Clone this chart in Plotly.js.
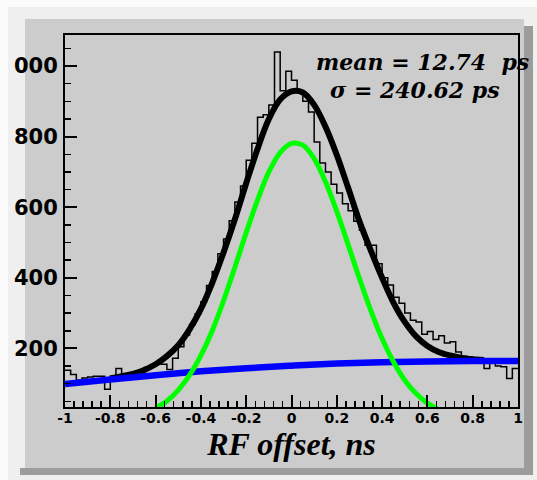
<!DOCTYPE html>
<html>
<head>
<meta charset="utf-8">
<script src="https://cdn.plot.ly/plotly-3.0.1.min.js"></script>
<style>
  html, body { margin: 0; padding: 0; background: #fbfbfb; }
  #chart { width: 537px; height: 480px; }
</style>
</head>
<body>
<div id="chart"></div>
<script>
// ---------------- data ----------------
// histogram: 80 bins of 0.025 ns from -1 to 1
const histLow = -1;
const histBinWidth = 0.025;
const histCounts = [
  138, 126, 110, 116, 119, 121, 121, 84, 121, 143,
  128, 128, 131, 136, 146, 152, 160, 155, 140, 172,
  205, 238, 268, 298, 332, 378, 418, 468, 510, 562,
  615, 660, 733, 781, 855, 862, 890, 1040, 930, 985,
  960, 925, 900, 870, 785, 725, 700, 665, 640, 610,
  590, 560, 535, 492, 492, 440, 400, 380, 345, 328,
  300, 280, 275, 240, 248, 225, 236, 215, 219, 190,
  178, 176, 172, 165, 143, 160, 150, 148, 115, 143
];

// total fit (black)
const fitX = [-0.8,-0.75,-0.7,-0.65,-0.6,-0.55,-0.5,-0.45,-0.4,-0.35,-0.3,-0.25,-0.2,-0.15,-0.1,-0.05,0,0.05,0.1,0.15,0.2,0.25,0.3,0.35,0.4,0.45,0.5,0.55,0.6,0.65,0.7,0.75,0.8,0.85];
const fitY = [115,121,128,139,155,178,209,254,312,386,472,566,668,765,850,905,928,925,890,828,748,655,560,478,400,330,275,234,207,190,180,173,169,167];

// signal component (green)
const gaussX = [-0.6,-0.55,-0.5,-0.45,-0.4,-0.35,-0.3,-0.25,-0.2,-0.15,-0.1,-0.05,0,0.05,0.1,0.15,0.2,0.25,0.3,0.35,0.4,0.45,0.5,0.55,0.6,0.65];
const gaussY = [31,51,82,124,180,250,335,430,528,620,700,755,781,776,738,672,588,494,398,308,228,162,110,72,45,27];

// background component (blue)
const bgX = [-1,-0.8,-0.6,-0.4,-0.2,0,0.2,0.4,0.6,0.8,1];
const bgY = [99,112,124,135,144,151,157,161,163,164,164];

// axis ticks
const xTickVals = [-1,-0.8,-0.6,-0.4,-0.2,0,0.2,0.4,0.6,0.8,1];
const xTickText = ['-1','-0.8','-0.6','-0.4','-0.2','0','0.2','0.4','0.6','0.8','1'];
const yTickVals = [200,400,600,800,1000];
const yTickText = ['200','400','600','800','000'];

const xTitle = 'RF offset, ns';
const statLine1 = 'mean = 12.74\u00a0 ps';
const statLine2 = '\u03c3 = 240.62 ps';

// ---------------- build step outline of histogram ----------------
const histX = [];
const histY = [];
for (let i = 0; i < histCounts.length; i++) {
  histX.push(histLow + i * histBinWidth);
  histY.push(histCounts[i]);
}
histX.push(histLow + histCounts.length * histBinWidth);
histY.push(histCounts[histCounts.length - 1]);

const traces = [
  { x: histX, y: histY, type: 'scatter', mode: 'lines',
    line: { shape: 'hv', color: '#000000', width: 1.5 }, hoverinfo: 'skip' },
  { x: fitX, y: fitY, type: 'scatter', mode: 'lines',
    line: { shape: 'spline', color: '#000000', width: 6 } },
  { x: bgX, y: bgY, type: 'scatter', mode: 'lines',
    line: { shape: 'spline', color: '#0000ff', width: 6.5 } },
  { x: gaussX, y: gaussY, type: 'scatter', mode: 'lines',
    line: { shape: 'spline', color: '#00ff00', width: 5 } }
];

// plot area: x 65..518, y 35..407 (px)
const L = 65, R = 518, T = 35, B = 407;
const px = v => (v - L) / (R - L);
const py = v => (B - v) / (B - T);

const layout = {
  width: 537, height: 480,
  margin: { l: L, r: 537 - R, t: T, b: 480 - B, pad: 0 },
  paper_bgcolor: '#fbfbfb',
  plot_bgcolor: '#cccccc',
  showlegend: false,
  xaxis: {
    range: [-1, 1],
    tickmode: 'array', tickvals: xTickVals, ticktext: xTickText,
    ticks: 'inside', ticklen: 12, tickwidth: 2, tickcolor: '#000',
    minor: { tickmode: 'linear', tick0: -1, dtick: 0.04, ticks: 'inside', ticklen: 6, tickwidth: 1.5, tickcolor: '#000' },
    showline: true, linecolor: '#000', linewidth: 2, mirror: true,
    showgrid: false, zeroline: false,
    tickfont: { family: 'DejaVu Sans', size: 14, color: '#000', weight: 'bold' },
    ticklabelstandoff: -3,
    title: { text: xTitle, standoff: 4,
      font: { family: 'Liberation Serif', size: 32, color: '#000', weight: 'bold', style: 'italic' } }
  },
  yaxis: {
    range: [34, 1088],
    tickmode: 'array', tickvals: yTickVals, ticktext: yTickText,
    ticks: 'inside', ticklen: 12, tickwidth: 2, tickcolor: '#000',
    minor: { tickmode: 'linear', tick0: 0, dtick: 50, ticks: 'inside', ticklen: 6, tickwidth: 1.5, tickcolor: '#000' },
    showline: true, linecolor: '#000', linewidth: 2, mirror: true,
    showgrid: false, zeroline: false,
    tickfont: { family: 'DejaVu Sans', size: 21, color: '#000', weight: 'bold' },
    ticklabelstandoff: 1
  },
  shapes: [
    // outer light bevel
    { type: 'rect', xref: 'paper', yref: 'paper', layer: 'below',
      x0: px(8), x1: px(545), y0: py(490), y1: py(7),
      fillcolor: '#efefef', line: { width: 0 } },
    // dark shadow: bottom and right
    { type: 'rect', xref: 'paper', yref: 'paper', layer: 'below',
      x0: px(20), x1: px(533), y0: py(475), y1: py(468),
      fillcolor: '#9c9c9c', line: { width: 0 } },
    { type: 'rect', xref: 'paper', yref: 'paper', layer: 'below',
      x0: px(524), x1: px(533), y0: py(475), y1: py(26),
      fillcolor: '#9c9c9c', line: { width: 0 } },
    // pad panel
    { type: 'rect', xref: 'paper', yref: 'paper', layer: 'below',
      x0: px(25), x1: px(524), y0: py(468), y1: py(19),
      fillcolor: '#cccccc', line: { width: 0 } }
  ],
  annotations: [
    { xref: 'paper', yref: 'paper', x: px(315), y: py(62), xanchor: 'left', yanchor: 'middle',
      text: statLine1, showarrow: false, borderpad: 0,
      font: { family: 'DejaVu Serif', size: 22, color: '#000', weight: 'bold', style: 'italic' } },
    { xref: 'paper', yref: 'paper', x: px(329), y: py(89.5), xanchor: 'left', yanchor: 'middle',
      text: statLine2, showarrow: false, borderpad: 0,
      font: { family: 'DejaVu Serif', size: 22, color: '#000', weight: 'bold', style: 'italic' } }
  ]
};

Plotly.newPlot('chart', traces, layout, { staticPlot: true, displayModeBar: false });
</script>
</body>
</html>
